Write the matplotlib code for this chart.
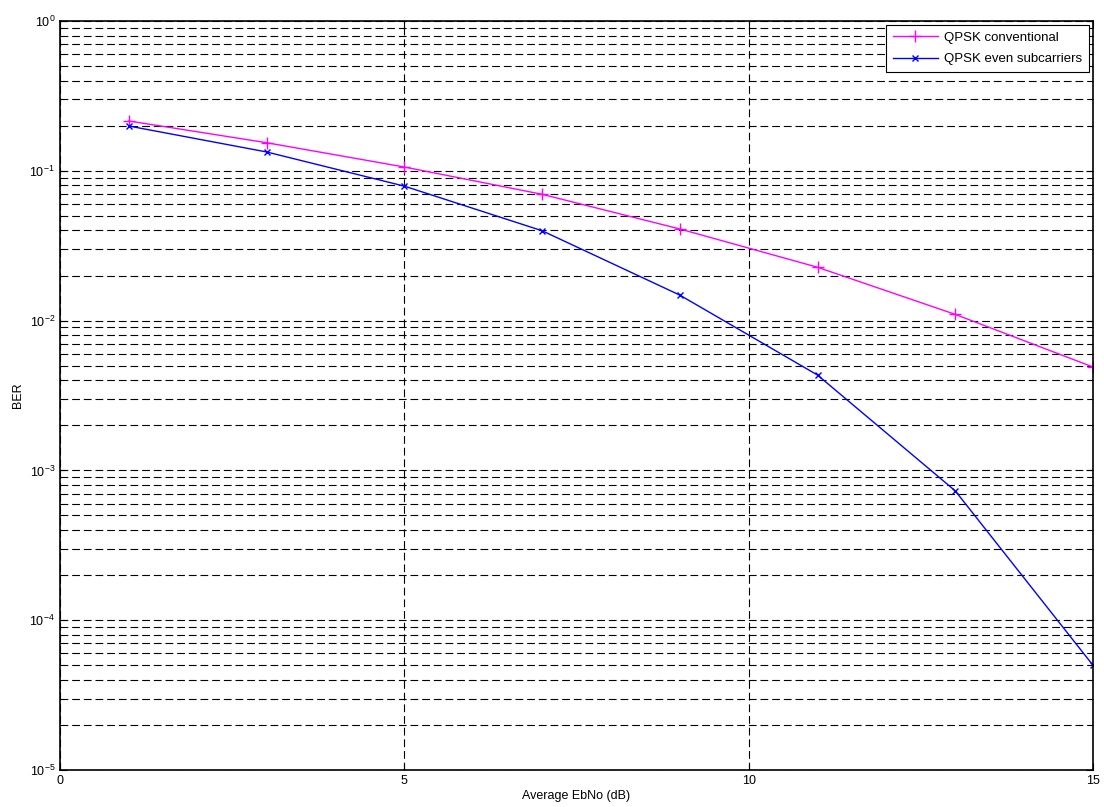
import numpy as np
import matplotlib
matplotlib.use("Agg")
import matplotlib.pyplot as plt
from matplotlib.ticker import LogLocator, NullFormatter

# Eb/No points (dB) and BER
ebno = [1, 3, 5, 7, 9, 11, 13, 15]
ber_conv = [0.215, 0.154, 0.106, 0.0697, 0.0409, 0.0227, 0.0110, 0.0049]
ber_even = [0.199, 0.1336, 0.079, 0.0398, 0.0148, 0.00433, 0.00073, 0.00005]
labels = ["QPSK conventional", "QPSK even subcarriers"]

plt.rcParams['font.family'] = ['Liberation Sans', 'DejaVu Sans']
plt.rcParams['mathtext.fontset'] = 'custom'
plt.rcParams['mathtext.rm'] = 'Liberation Sans'
plt.rcParams['mathtext.it'] = 'Liberation Sans'
plt.rcParams['axes.unicode_minus'] = False

fig = plt.figure(figsize=(11.04, 8.07), dpi=100)
ax = fig.add_axes([60 / 1104, 37 / 807, 1033 / 1104, 749 / 807])

ax.semilogy(ebno, ber_conv, color='#ff00ff', marker='+', markersize=8,
            linewidth=1, label=labels[0])
ax.semilogy(ebno, ber_even, color='#0000ff', marker='x', markersize=4,
            linewidth=1, label=labels[1])

ax.set_xlim(0, 15)
ax.set_ylim(1e-5, 1)
ax.set_xticks([0, 5, 10, 15])
ax.yaxis.set_major_locator(LogLocator(base=10, numticks=10))
ax.yaxis.set_minor_locator(LogLocator(base=10, subs=np.arange(2, 10), numticks=10))
ax.yaxis.set_minor_formatter(NullFormatter())

dash = (0, (7, 3.5))
ax.grid(True, which='major', axis='both', color='black', linestyle=dash, linewidth=0.8)
ax.grid(True, which='minor', axis='y', color='black', linestyle=dash, linewidth=0.8)

ax.tick_params(which='both', direction='in', top=True, right=True, labelsize=9)
ax.tick_params(which='major', length=5)
ax.tick_params(which='minor', length=3)
for s in ax.spines.values():
    s.set_linewidth(1.2)

ax.set_xlabel('Average EbNo (dB)', fontsize=9, labelpad=2)
ax.set_ylabel('BER', fontsize=9, labelpad=4)

leg = ax.legend(loc='upper right', fontsize=9.5, fancybox=False, framealpha=1,
                edgecolor='black', borderaxespad=0.3, handlelength=3.4,
                borderpad=0.5, labelspacing=0.7, handletextpad=0.5)
leg.get_frame().set_linewidth(0.8)

fig.savefig('out.png', dpi=100)
